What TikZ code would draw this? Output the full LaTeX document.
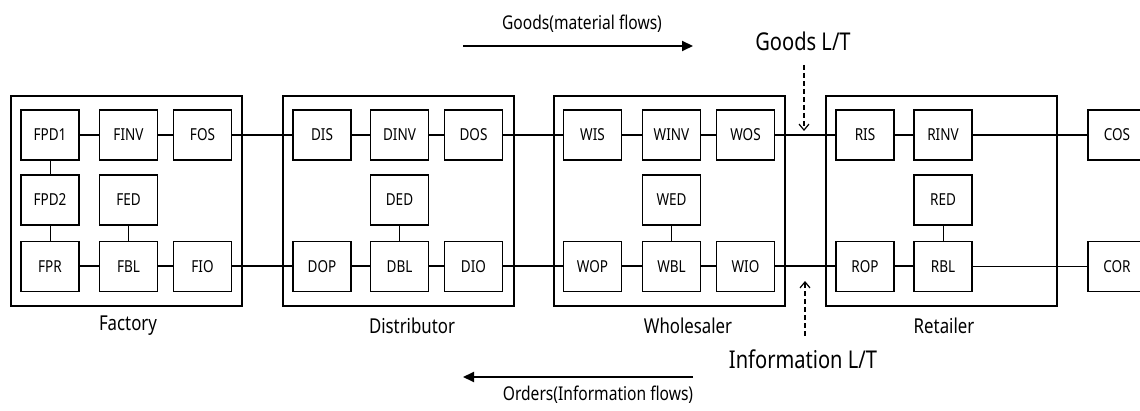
\documentclass[tikz,border=0pt]{standalone}
\usepackage{fontspec}
\setmainfont{Noto Sans}[FakeStretch=0.82]
\usepackage{tikz}
\usetikzlibrary{arrows.meta,positioning}

\begin{document}
\begin{tikzpicture}[
			x = 1pt, y = -1pt,
			stage/.style = {draw, line width=2pt, minimum width=231pt, minimum height=210pt, inner sep=0},
			blk/.style = {draw, line width=1.5pt, minimum width=58pt, minimum height=50pt, inner sep=0, font=\fontsize{16.5}{18}\selectfont},
			stagename/.style = {font=\fontsize{20.5}{23}\selectfont},
			ltname/.style = {font=\fontsize{24.5}{28}\selectfont},
			flowname/.style = {font=\fontsize{19}{21}\selectfont},
			flow/.style = {line width=2pt},
			link/.style = {line width=1pt},
			lt/.style = {dash pattern=on 5pt off 3pt, line width=1.2pt, -{Straight Barb[length=6pt,width=10pt]}},
			dir/.style = {line width=2pt, -{Triangle[length=11pt,width=10pt]}}
			]
			\useasboundingbox (0,0) rectangle (1140,411);
			\def\ra{135}
			\def\rb{200}
			\def\rc{266.5}

			% the four stages
			\node[stage] (fac) at (126.5,201) {};
			\node[stage] (dis) at (398,201) {};
			\node[stage] (whs) at (669.5,201) {};
			\node[stage] (ret) at (941,201) {};
			\node[stagename] (facname) at (128,326) {Factory};
			\node[stagename] (disname) at (412,326) {Distributor};
			\node[stagename] (whsname) at (688,326) {Wholesaler};
			\node[stagename] (retname) at (944,326) {Retailer};

			% factory
			\node[blk] (FPD1) at (50,\ra) {FPD1};
			\node[blk] (FINV) at (128.5,\ra) {FINV};
			\node[blk] (FOS) at (202.5,\ra) {FOS};
			\node[blk] (FPD2) at (50,\rb) {FPD2};
			\node[blk] (FED) at (128.5,\rb) {FED};
			\node[blk] (FPR) at (50,\rc) {FPR};
			\node[blk] (FBL) at (128.5,\rc) {FBL};
			\node[blk] (FIO) at (202.5,\rc) {FIO};

			% distributor
			\node[blk] (DIS) at (322,\ra) {DIS};
			\node[blk] (DINV) at (399.5,\ra) {DINV};
			\node[blk] (DOS) at (473.5,\ra) {DOS};
			\node[blk] (DED) at (399.5,\rb) {DED};
			\node[blk] (DOP) at (322,\rc) {DOP};
			\node[blk] (DBL) at (399.5,\rc) {DBL};
			\node[blk] (DIO) at (473.5,\rc) {DIO};

			% wholesaler
			\node[blk] (WIS) at (592.5,\ra) {WIS};
			\node[blk] (WINV) at (671.5,\ra) {WINV};
			\node[blk] (WOS) at (745.5,\ra) {WOS};
			\node[blk] (WED) at (671.5,\rb) {WED};
			\node[blk] (WOP) at (592.5,\rc) {WOP};
			\node[blk] (WBL) at (671.5,\rc) {WBL};
			\node[blk] (WIO) at (745.5,\rc) {WIO};

			% retailer and customer
			\node[blk] (RIS) at (865,\ra) {RIS};
			\node[blk] (RINV) at (943,\ra) {RINV};
			\node[blk] (RED) at (943,\rb) {RED};
			\node[blk] (ROP) at (865,\rc) {ROP};
			\node[blk] (RBL) at (943,\rc) {RBL};
			\node[blk] (COS) at (1117,\ra) {COS};
			\node[blk] (COR) at (1117,\rc) {COR};

			% goods and orders along the chain
			\draw[flow] (FPD1) -- (FINV) -- (FOS) -- (DIS) -- (DINV) -- (DOS) -- (WIS) -- (WINV) -- (WOS) -- (RIS) -- (RINV) -- (COS);
			\draw[flow] (FPR) -- (FBL) -- (FIO) -- (DOP) -- (DBL) -- (DIO) -- (WOP) -- (WBL) -- (WIO) -- (ROP) -- (RBL);
			\draw[link] (RBL) -- (COR);
			\draw[link] (FPD1) -- (FPD2) -- (FPR);
			\draw[link] (FED) -- (FBL);
			\draw[link] (DED) -- (DBL);
			\draw[link] (WED) -- (WBL);
			\draw[link] (RED) -- (RBL);

			% lead times
			\node[ltname] (goodslt) at (803,41) {Goods L/T};
			\coordinate (goodsltA) at (804,65);
			\coordinate (goodsltB) at (804,131);
			\draw[lt] (goodsltA) -- (goodsltB);
			\node[ltname] (infolt) at (803,359) {Information L/T};
			\coordinate (infoltA) at (805,336);
			\coordinate (infoltB) at (805,281);
			\draw[lt] (infoltA) -- (infoltB);

			% flow directions
			\node[flowname] (goodsname) at (582,24) {Goods(material flows)};
			\coordinate (goodsA) at (463,46);
			\coordinate (goodsB) at (693,46);
			\draw[dir] (goodsA) -- (goodsB);
			\node[flowname] (ordersname) at (598,395) {Orders(Information flows)};
			\coordinate (ordersA) at (693,377);
			\coordinate (ordersB) at (463,377);
			\draw[dir] (ordersA) -- (ordersB);

		\end{tikzpicture}
\end{document}
